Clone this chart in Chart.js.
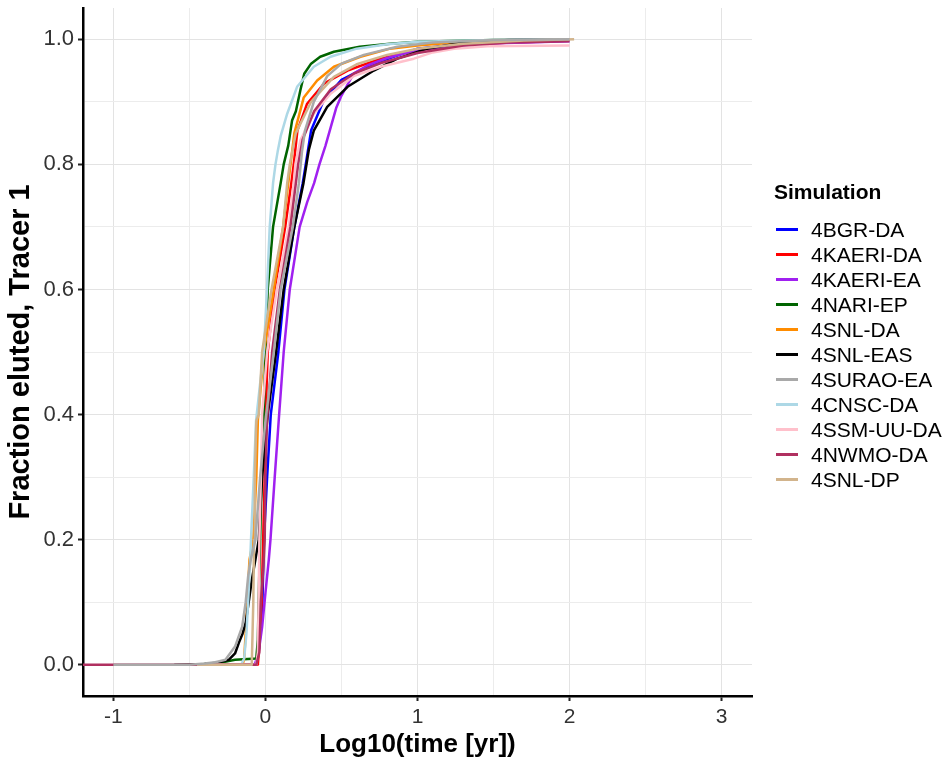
<!DOCTYPE html>
<html>
  <head>
    <title>Tracer 1 breakthrough</title>
    <script src="https://cdn.jsdelivr.net/npm/chart.js"></script>
    <style>
      body { margin: 0; background: #fff; }
      #wrap { position: relative; width: 947px; height: 762px; }
      #legend {
        position: absolute; left: 774px; top: 179px;
        font-family: "Liberation Sans", Arial, sans-serif; color: #000;
      }
      #legend .title { font-weight: bold; font-size: 21px; line-height: 26px; margin-bottom: 12px; }
      #legend .item { display: flex; align-items: center; height: 25px; font-size: 21px; }
      #legend .swatch { width: 22px; height: 3px; margin-left: 2px; margin-right: 13px; }
    </style>
  </head>
  <body>
    <div id="wrap">
      <canvas id="myChart"></canvas>
      <div id="legend"></div>
    </div>

    <script>
      // Simulation names and colours (legend order)
      const simNames = ['4BGR-DA', '4KAERI-DA', '4KAERI-EA', '4NARI-EP', '4SNL-DA', '4SNL-EAS',
                        '4SURAO-EA', '4CNSC-DA', '4SSM-UU-DA', '4NWMO-DA', '4SNL-DP'];
      const simColors = ['#0000ff', '#ff0000', '#a020f0', '#006400', '#ff8c00', '#000000',
                         '#a9a9a9', '#add8e6', '#ffc0cb', '#b03060', '#d2b48c'];

      // Axis ticks
      const xMajorTicks = [-1, 0, 1, 2, 3];
      const xMinorTicks = [-0.5, 0.5, 1.5, 2.5];
      const yMajorTicks = [0, 0.2, 0.4, 0.6, 0.8, 1.0];
      const yMinorTicks = [0.1, 0.3, 0.5, 0.7, 0.9];

      // Breakthrough curves: [log10(time), fraction eluted]
      const bgrDA = [[-0.45,0],[-0.06,0],[-0.04,0.03],[-0.02,0.1],[-0.01,0.2],[0.011,0.3],[0.035,0.4],
        [0.085,0.5],[0.125,0.6],[0.19,0.7],[0.245,0.77],[0.265,0.8],[0.3,0.854],[0.384,0.903],
        [0.5,0.935],[0.7,0.96],[1.0,0.985],[1.5,0.998],[1.9,1.0]];
      const kaeriDA = [[-0.45,0],[-0.05,0],[-0.035,0.05],[-0.025,0.1],[-0.015,0.2],[-0.005,0.3],[0.0,0.39],
        [0.015,0.5],[0.06,0.6],[0.13,0.7],[0.17,0.77],[0.186,0.8],[0.21,0.854],[0.274,0.897],
        [0.384,0.929],[0.54,0.95],[0.757,0.969],[1.0,0.983],[1.3,0.992],[1.78,0.996]];
      const kaeriEA = [[-0.45,0],[-0.07,0],[-0.045,0.02],[-0.022,0.06],[0.0,0.115],[0.022,0.168],[0.033,0.2],
        [0.061,0.3],[0.09,0.4],[0.12,0.5],[0.16,0.6],[0.225,0.7],[0.275,0.74],[0.32,0.77],[0.355,0.8],
        [0.395,0.83],[0.43,0.86],[0.465,0.89],[0.5,0.91],[0.58,0.945],[0.67,0.958],[0.8,0.97],
        [1.0,0.983],[1.4,0.993],[2.0,0.997]];
      const nariEP = [[-0.45,0],[-0.3,0.003],[-0.2,0.008],[-0.06,0.01],[-0.05,0.04],[-0.045,0.1],[-0.035,0.2],
        [-0.025,0.3],[-0.012,0.4],[0.0,0.5],[0.015,0.6],[0.05,0.7],[0.1,0.77],[0.12,0.8],[0.15,0.83],
        [0.175,0.87],[0.2,0.885],[0.23,0.919],[0.255,0.945],[0.3,0.961],[0.36,0.972],[0.45,0.98],
        [0.62,0.988],[0.82,0.993],[1.0,0.996],[1.5,0.999],[2.0,1.0]];
      const snlDA = [[-0.45,0],[-0.15,0],[-0.14,0.01],[-0.13,0.05],[-0.12,0.1],[-0.105,0.168],[-0.08,0.2],
        [-0.06,0.3],[-0.05,0.39],[-0.011,0.5],[0.055,0.6],[0.116,0.7],[0.14,0.75],[0.165,0.8],
        [0.19,0.85],[0.252,0.907],[0.34,0.934],[0.45,0.956],[0.625,0.972],[0.82,0.985],[1.0,0.99],
        [1.3,0.996],[1.8,0.999],[2.0,1.0]];
      const snlEAS = [[-0.6,0],[-0.4,0.001],[-0.32,0.003],[-0.24,0.008],[-0.2,0.018],[-0.175,0.035],
        [-0.15,0.05],[-0.13,0.067],[-0.11,0.1],[-0.09,0.135],[-0.066,0.168],[-0.044,0.2],[-0.022,0.3],
        [0.015,0.4],[0.07,0.5],[0.12,0.6],[0.19,0.7],[0.25,0.77],[0.27,0.8],[0.285,0.823],[0.318,0.854],
        [0.406,0.892],[0.54,0.924],[0.713,0.95],[0.867,0.969],[1.064,0.985],[1.3,0.995],[1.6,0.999],[2.0,1.0]];
      const suraoEA = [[-1.0,0],[-0.5,0],[-0.4,0.002],[-0.33,0.004],[-0.263,0.008],[-0.2,0.029],[-0.153,0.061],
        [-0.13,0.1],[-0.114,0.141],[-0.095,0.17],[-0.066,0.2],[-0.035,0.3],[0.0,0.39],[0.055,0.5],
        [0.1,0.6],[0.18,0.7],[0.22,0.77],[0.24,0.82],[0.26,0.854],[0.318,0.9],[0.406,0.941],[0.5,0.961],
        [0.647,0.975],[0.867,0.988],[1.1,0.995],[1.5,0.999],[2.0,1.0]];
      const cnscDA = [[-0.45,0],[-0.16,0],[-0.14,0.01],[-0.125,0.05],[-0.114,0.1],[-0.1,0.17],[-0.095,0.2],
        [-0.077,0.3],[-0.062,0.39],[-0.035,0.45],[-0.011,0.5],[0.01,0.6],[0.028,0.7],[0.05,0.77],
        [0.066,0.8],[0.08,0.82],[0.1,0.845],[0.143,0.881],[0.208,0.924],[0.318,0.956],[0.428,0.972],
        [0.6,0.985],[0.8,0.992],[1.0,0.996],[1.5,0.999],[2.0,1.0]];
      const ssmUUDA = [[-0.45,0],[-0.06,0],[-0.05,0.02],[-0.045,0.1],[-0.04,0.2],[-0.03,0.3],[-0.022,0.4],
        [0.011,0.5],[0.075,0.6],[0.153,0.7],[0.186,0.77],[0.197,0.8],[0.23,0.839],[0.318,0.881],
        [0.428,0.913],[0.58,0.941],[0.757,0.956],[0.976,0.969],[1.1,0.979],[1.24,0.985],[1.46,0.989],[2.0,0.99]];
      const nwmoDA = [[-1.25,0],[-0.06,0],[-0.04,0.02],[-0.03,0.1],[-0.015,0.15],[-0.005,0.2],[0.0,0.3],
        [0.01,0.39],[0.044,0.5],[0.095,0.6],[0.164,0.7],[0.2,0.77],[0.215,0.8],[0.245,0.84],[0.32,0.885],
        [0.43,0.92],[0.58,0.945],[0.76,0.962],[1.0,0.978],[1.3,0.99],[1.6,0.995],[2.0,0.997]];
      const snlDP = [[-0.45,0],[-0.09,0],[-0.085,0.05],[-0.08,0.1],[-0.075,0.2],[-0.07,0.3],[-0.06,0.39],
        [-0.044,0.4],[-0.022,0.5],[0.04,0.6],[0.116,0.7],[0.143,0.77],[0.16,0.8],[0.2,0.85],[0.3,0.9],
        [0.45,0.94],[0.6,0.96],[0.8,0.975],[1.0,0.985],[1.3,0.993],[1.7,0.998],[2.03,1.0]];

      const simData = [bgrDA, kaeriDA, kaeriEA, nariEP, snlDA, snlEAS, suraoEA, cnscDA, ssmUUDA, nwmoDA, snlDP];

      const fontFamily = '"Liberation Sans", Arial, sans-serif';

      // later simulations are drawn over earlier ones; SURAO sits on top
      const datasets = simNames.map((name, i) => ({
        label: name,
        data: simData[i].map(p => ({ x: p[0], y: p[1] })),
        borderColor: simColors[i],
        backgroundColor: simColors[i],
        borderWidth: 2.5,
        pointRadius: 0,
        tension: 0,
        fill: false,
        borderJoinStyle: 'round',
        order: name === '4SURAO-EA' ? 0 : simNames.length - i,
      }));

      function tickList(major, minor) {
        return major.concat(minor).sort((a, b) => a - b).map(v => ({ value: v }));
      }

      const ctx = document.getElementById('myChart').getContext('2d');
      const chart = new Chart(ctx, {
        type: 'line',
        data: { datasets: datasets },
        options: {
          responsive: true,
          maintainAspectRatio: false,
          animation: false,
          parsing: false,
          layout: { padding: { left: 0, top: 8, right: 195, bottom: 0 } },
          plugins: {
            legend: { display: false },
            tooltip: { enabled: false },
          },
          scales: {
            x: {
              type: 'linear',
              min: -1.2,
              max: 3.2,
              afterBuildTicks: s => { s.ticks = tickList(xMajorTicks, xMinorTicks); },
              afterFit: s => { s.height = 66; s.paddingLeft = 0; s.paddingRight = 0; },
              ticks: {
                autoSkip: false,
                maxRotation: 0,
                padding: 4,
                color: '#333',
                font: { family: fontFamily, size: 21 },
                callback: v => xMajorTicks.includes(v) ? String(v) : '',
              },
              grid: {
                color: c => (c.tick && xMajorTicks.includes(c.tick.value)) ? '#e3e3e3' : '#ececec',
                lineWidth: 1,
                tickLength: 5,
                tickWidth: 2,
                tickColor: c => (c.tick && xMajorTicks.includes(c.tick.value)) ? '#222' : 'rgba(0,0,0,0)',
              },
              border: { display: true, color: '#000', width: 2.5 },
              title: {
                display: true,
                text: 'Log10(time [yr])',
                color: '#000',
                font: { family: fontFamily, size: 26, weight: 'bold' },
                padding: { top: 2, bottom: 2 },
              },
            },
            y: {
              type: 'linear',
              min: -0.05,
              max: 1.05,
              afterBuildTicks: s => { s.ticks = tickList(yMajorTicks, yMinorTicks); },
              afterFit: s => { s.width = 83; s.paddingTop = 0; s.paddingBottom = 0; },
              ticks: {
                padding: 4,
                color: '#333',
                font: { family: fontFamily, size: 22 },
                callback: v => yMajorTicks.includes(v) ? v.toFixed(1) : '',
              },
              grid: {
                color: c => (c.tick && yMajorTicks.includes(c.tick.value)) ? '#e3e3e3' : '#ececec',
                lineWidth: 1,
                tickLength: 5,
                tickWidth: 2,
                tickColor: c => (c.tick && yMajorTicks.includes(c.tick.value)) ? '#222' : 'rgba(0,0,0,0)',
              },
              border: { display: true, color: '#000', width: 2.5 },
              title: {
                display: true,
                text: 'Fraction eluted, Tracer 1',
                color: '#000',
                font: { family: fontFamily, size: 29, weight: 'bold' },
                padding: { top: 4, bottom: 4 },
              },
            },
          },
        },
      });

      // Legend built from the same names and colours
      const legendEl = document.getElementById('legend');
      let html = '<div class="title">Simulation</div>';
      simNames.forEach((name, i) => {
        html += '<div class="item"><span class="swatch" style="background:' + simColors[i] + '"></span>' + name + '</div>';
      });
      legendEl.innerHTML = html;
    </script>
  </body>
</html>
